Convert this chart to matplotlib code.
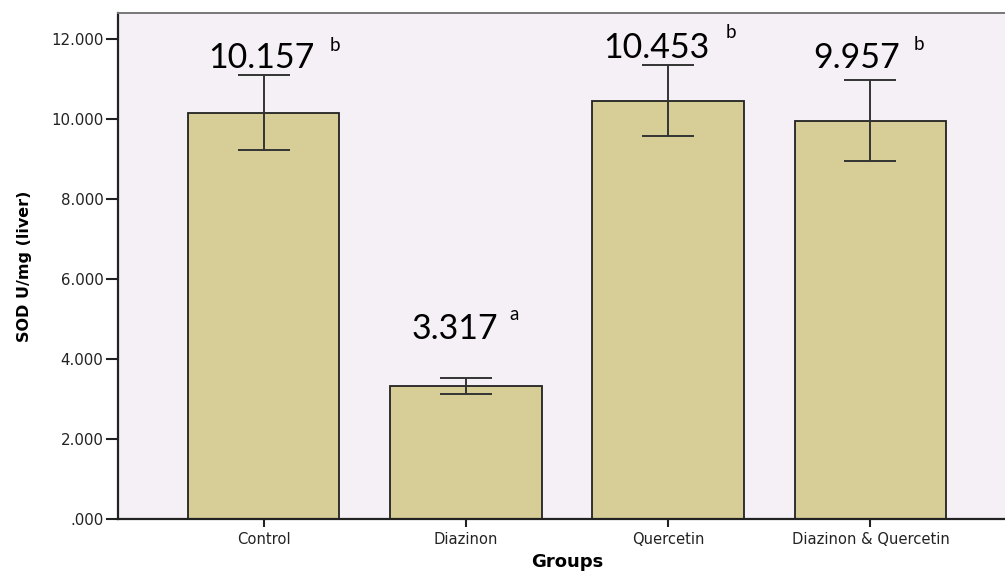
import matplotlib
matplotlib.use("Agg")
import matplotlib.pyplot as plt

groups = ["Control", "Diazinon", "Quercetin", "Diazinon & Quercetin"]
means = [10.157, 3.317, 10.453, 9.957]
errors = [0.94, 0.20, 0.885, 1.015]
letters = ["b", "a", "b", "b"]
yticks = [0, 2, 4, 6, 8, 10, 12]
ytick_labels = [".000", "2.000", "4.000", "6.000", "8.000", "10.000", "12.000"]

# layout offsets for the value labels (data units, relative to bar/error top)
num_dx = [-0.012, -0.054, -0.059, -0.069]
num_dy = [0.19, 0.98, 0.19, 0.30]
sup_dx = [0.327, 0.213, 0.282, 0.213]
sup_dy = [0.61, 1.45, 0.69, 0.75]

fig = plt.figure(figsize=(10.05, 5.76), dpi=100)
fig.patch.set_facecolor("white")
ax = fig.add_axes([118/1005, 57/576, 898/1005, 506/576])
ax.set_facecolor("#f5f0f5")

x = list(range(len(groups)))
ax.bar(x, means, width=0.75, color="#d7cd96", edgecolor="#222222", linewidth=1.3, zorder=2)
ax.errorbar(x, means, yerr=errors, fmt="none", ecolor="#333333", elinewidth=1.4,
            capsize=18.4, capthick=1.4, zorder=3)

for i in x:
    top = means[i] + errors[i]
    ax.text(i + num_dx[i], top + num_dy[i], f"{means[i]:.3f}", ha="center", va="baseline",
            fontsize=24.5, family="Lato", color="black", zorder=4)
    ax.text(i + sup_dx[i], top + sup_dy[i], letters[i], ha="left", va="baseline",
            fontsize=13.5, family="Lato", color="black", zorder=4)

ax.set_xlim(-0.72, 3.72)
ax.set_ylim(0, 12.65)
ax.set_yticks(yticks)
ax.set_yticklabels(ytick_labels, fontsize=10.8, family="DejaVu Sans", color="#222222")
ax.set_xticks(x)
ax.set_xticklabels(groups, fontsize=10.6, family="DejaVu Sans", color="#222222")
ax.tick_params(axis="y", length=9, width=1.5, pad=1.5, color="#222222")
ax.tick_params(axis="x", length=6, width=1.5, pad=3, color="#222222")

for s in ["left", "bottom"]:
    ax.spines[s].set_linewidth(1.6)
    ax.spines[s].set_color("#222222")
ax.spines["top"].set_linewidth(1.4)
ax.spines["top"].set_color("#777777")
ax.spines["right"].set_visible(False)

ax.set_ylabel("SOD U/mg (liver)", fontsize=11.5, fontweight="bold", family="DejaVu Sans", labelpad=14)
ax.set_xlabel("Groups", fontsize=13, fontweight="bold", family="DejaVu Sans", labelpad=5)

fig.savefig("out.png", dpi=100)
